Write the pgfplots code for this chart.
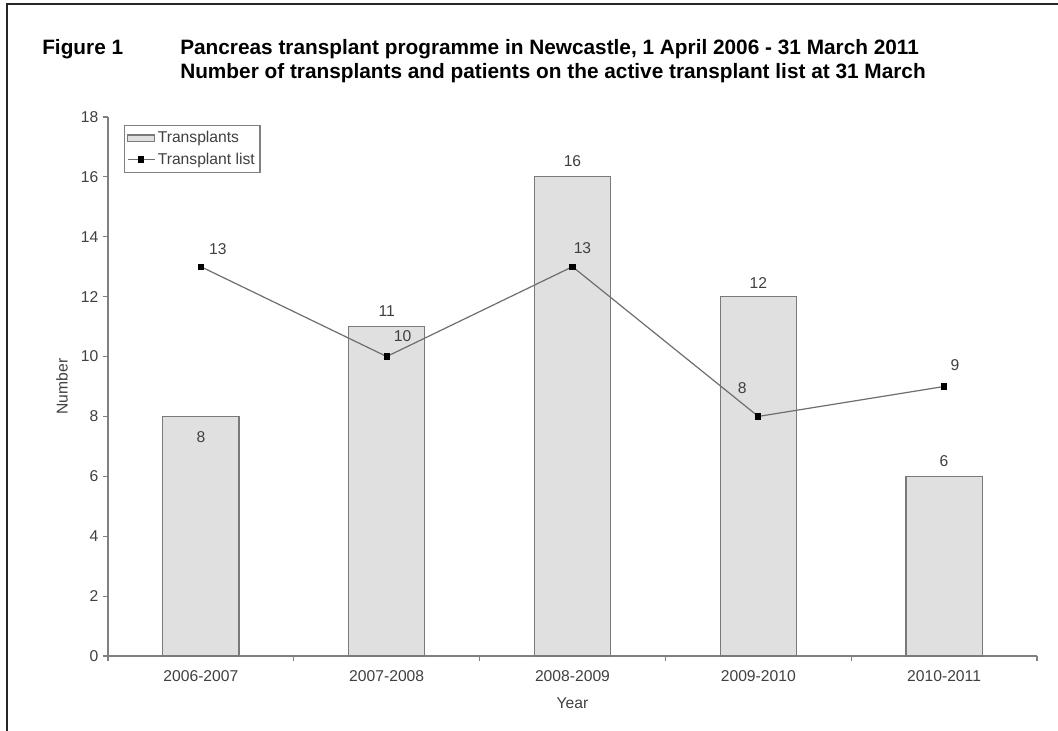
\documentclass[border=0pt]{standalone}
\usepackage{fontspec}
\setmainfont{Liberation Sans}
\usepackage{pgfplots}
\pgfplotsset{compat=1.18}

\definecolor{barfill}{HTML}{E0E0E0}
\definecolor{bardraw}{HTML}{7A7A7A}
\definecolor{axgray}{HTML}{808080}
\definecolor{txtgray}{HTML}{404040}
\definecolor{linegray}{HTML}{6E6E6E}

\pgfplotsset{
  barlegend/.style={legend image code/.code={\draw[##1] (0pt,-2.5pt) rectangle (20pt,2.5pt);}},
  linelegend/.style={legend image code/.code={\draw[##1, mark repeat=2, mark phase=2] plot coordinates {(0pt,0pt) (10pt,0pt) (20pt,0pt)};}},
}

\begin{document}
\begin{tikzpicture}
% 1px of the reference = 0.75pt
\useasboundingbox (-81pt,-56.25pt) rectangle (712.5pt,492pt);
\fill[white] (-81pt,-56.25pt) rectangle (712.5pt,492pt);
\draw[line width=1.5pt, black!85] (-75.75pt,-60pt) -- (-75.75pt,489pt) -- (720pt,489pt);

\node[anchor=base west, inner sep=0pt, font=\fontsize{15.6}{18}\selectfont\bfseries] at (-49.5pt,450.75pt) {Figure 1};
\node[anchor=base west, inner sep=0pt, font=\fontsize{15.6}{18}\selectfont\bfseries] at (54pt,450.75pt)
  {Pancreas transplant programme in Newcastle, 1 April 2006 - 31 March 2011};
\node[anchor=base west, inner sep=0pt, font=\fontsize{15.6}{18}\selectfont\bfseries] at (54pt,432.75pt)
  {Number of transplants and patients on the active transplant list at 31 March};

\begin{axis}[
  at={(0,0)}, anchor=south west,
  scale only axis,
  width=696.75pt, height=404.25pt,
  xmin=-0.5, xmax=4.5,
  ymin=0, ymax=18,
  axis lines=left,
  axis line style={draw=axgray, -, line width=0.9pt},
  xtick={0,...,4},
  xticklabels={2006-2007,2007-2008,2008-2009,2009-2010,2010-2011},
  minor xtick={-0.5,0.5,...,4.5},
  ytick={0,2,...,18},
  tick align=outside,
  major tick length=3.75pt,
  minor tick length=3.75pt,
  x tick style={draw=none},
  minor x tick style={draw=axgray, line width=0.9pt},
  y tick style={draw=axgray, line width=0.9pt},
  /pgf/number format/assume math mode=true,
  tick label style={font=\fontsize{11.75}{14}\selectfont, text=txtgray},
  xticklabel style={yshift=-3.5pt},
  xlabel={Year},
  ylabel={Number},
  xlabel style={at={(axis description cs:0.5,0)}, anchor=center, yshift=-35.25pt,
    font=\fontsize{11.75}{14}\selectfont, text=txtgray},
  every axis y label/.style={at={([xshift=-34.5pt]axis description cs:0,0.5)}, rotate=90, anchor=center,
    font=\fontsize{11.75}{14}\selectfont, text=txtgray},
  legend style={at={(axis description cs:0,1)}, anchor=north west, xshift=12pt, yshift=-6pt,
    draw=axgray, line width=0.9pt, font=\fontsize{11.75}{14}\selectfont, text=txtgray,
    inner xsep=2pt, inner ysep=2.5pt, row sep=2pt, cells={anchor=west}},
  clip=false,
]
\addplot[ybar, bar width=0.41, fill=barfill, draw=bardraw, line width=0.9pt, barlegend]
  coordinates {(0,8) (1,11) (2,16) (3,12) (4,6)};
\addlegendentry{Transplants}
\addplot[sharp plot, draw=linegray, line width=0.9pt, mark=square*, mark size=1.9pt,
  mark options={draw=black, fill=black}, linelegend]
  coordinates {(0,13) (1,10) (2,13) (3,8) (4,9)};
\addlegendentry{Transplant list}

% data labels
\begin{scope}[every node/.style={font=\fontsize{11.75}{14}\selectfont, text=txtgray}]
\node at (axis cs:0,8) [yshift=-15.75pt] {8};
\node at (axis cs:1,11) [yshift=11.25pt] {11};
\node at (axis cs:2,16) [yshift=12pt] {16};
\node at (axis cs:3,12) [yshift=10.5pt] {12};
\node at (axis cs:4,6) [yshift=11.25pt] {6};
\node at (axis cs:0,13) [xshift=12.75pt, yshift=13.5pt] {13};
\node at (axis cs:1,10) [xshift=12pt, yshift=15pt] {10};
\node at (axis cs:2,13) [xshift=7.5pt, yshift=14.25pt] {13};
\node at (axis cs:3,8) [xshift=-12pt, yshift=21pt] {8};
\node at (axis cs:4,9) [xshift=8.25pt, yshift=15.75pt] {9};
\end{scope}
\end{axis}
\end{tikzpicture}
\end{document}
